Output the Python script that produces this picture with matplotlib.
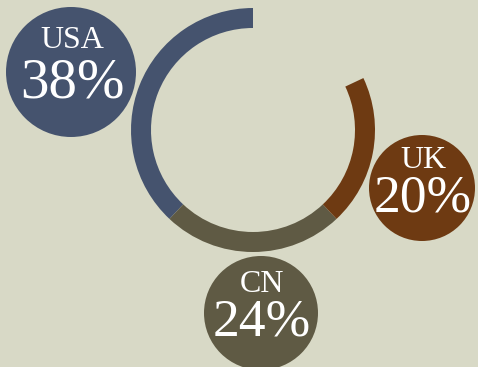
import matplotlib
matplotlib.use("Agg")
import matplotlib.pyplot as plt
from matplotlib.patches import Circle

countries = ["USA", "CN", "UK"]
shares = [38, 24, 20]
colors = ["#45536e", "#5f5a44", "#6e3a12"]

W, H = 478, 367
fig = plt.figure(figsize=(W / 100, H / 100), dpi=100)
bg = "#d8d9c6"
fig.patch.set_facecolor(bg)
ax = fig.add_axes([0, 0, 1, 1])
ax.set_facecolor(bg)

rest = 100 - sum(shares)
ax.pie(shares + [rest], colors=colors + ["none"], startangle=90, counterclock=True,
       center=(253, H - 130), radius=122, frame=True,
       wedgeprops=dict(width=20, linewidth=0))

# bubbles: (cx, cy, radius, label baseline, percent baseline, percent font size) in image px
bubbles = {
    "USA": (71, 72, 65, 48, 97, 41),
    "UK": (422, 188, 53, 168, 212, 38.5),
    "CN": (261, 313, 57, 292, 336, 38.5),
}
for name, val, col in zip(countries, shares, colors):
    cx, cy, r, lb, pb, fs = bubbles[name]
    ax.add_patch(Circle((cx, H - cy), r, color=col, lw=0, zorder=3))
    ax.text(cx + 1, H - lb, name, ha="center", va="baseline",
            family="Liberation Serif", fontsize=23, color="white", zorder=4)
    ax.text(cx + 1, H - pb, f"{val}%", ha="center", va="baseline",
            family="Liberation Serif", fontsize=fs, color="white", zorder=4)

ax.set_xlim(0, W)
ax.set_ylim(0, H)
ax.set_aspect("equal")
ax.axis("off")
fig.savefig("out.png", dpi=100, facecolor=bg)
